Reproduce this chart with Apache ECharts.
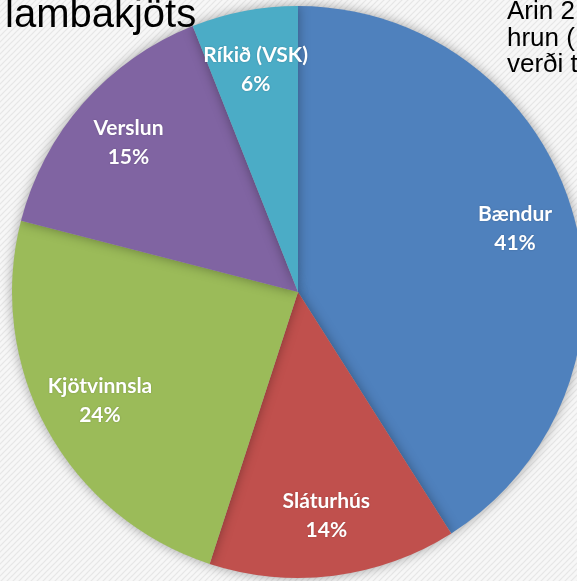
<!DOCTYPE html>
<html>
<head>
<meta charset="utf-8">
<script src="https://cdn.jsdelivr.net/npm/echarts@6/dist/echarts.min.js"></script>
<style>html,body{margin:0;padding:0;}#c{width:577px;height:581px;}</style>
</head>
<body>
<div id="c"></div>
<script>
const categories = ['Bændur', 'Sláturhús', 'Kjötvinnsla', 'Verslun', 'Ríkið (VSK)'];
const shares = [41, 14, 24, 15, 6];
const colors = ['#4F81BD', '#C0504D', '#9BBB59', '#8064A2', '#4BACC6'];
const titleText = 'lambakjöts';
const sideText = ['Árin 2', 'hrun (', 'verði t'];

const data = categories.map((n, i) => ({ name: n, value: shares[i], itemStyle: { color: colors[i] } }));

const pc = document.createElement('canvas');
pc.width = 6; pc.height = 6;
const g = pc.getContext('2d');
g.fillStyle = '#f7f7f7'; g.fillRect(0, 0, 6, 6);
g.strokeStyle = '#e6e6e6'; g.lineWidth = 1.2;
g.beginPath(); g.moveTo(-1, 7); g.lineTo(7, -1); g.stroke();
g.beginPath(); g.moveTo(-4, 4); g.lineTo(4, -4); g.stroke();
g.beginPath(); g.moveTo(2, 10); g.lineTo(10, 2); g.stroke();

const sideGraphics = sideText.map((t, i) => ({
  type: 'text', x: 507, y: 12 + i * 26.5, z: 100,
  style: { text: t, fontSize: 26, fontFamily: '"Liberation Sans", Arial, sans-serif', fill: '#000', verticalAlign: 'middle' }
}));

const chart = echarts.init(document.getElementById('c'));
chart.setOption({
  backgroundColor: { image: pc, repeat: 'repeat' },
  animation: false,
  graphic: [
    { type: 'text', x: 5, y: 16, z: 100,
      style: { text: titleText, fontSize: 40, fontFamily: '"Liberation Sans", Arial, sans-serif', fill: '#000', verticalAlign: 'middle' } }
  ].concat(sideGraphics),
  series: [
    {
      type: 'pie', center: [298, 292], radius: 286, startAngle: 90, clockwise: true,
      data: data, label: { show: false }, labelLine: { show: false }, silent: true,
      itemStyle: { shadowBlur: 12, shadowColor: 'rgba(0,0,0,0.35)' }
    },
    {
      type: 'pie', center: [298, 292], radius: [160, 286], startAngle: 90, clockwise: true,
      data: categories.map((n, i) => ({ name: n, value: shares[i] })), silent: true,
      itemStyle: { color: 'rgba(0,0,0,0)' },
      label: { show: true, position: 'inside', formatter: '{b}\n{c}%', color: '#fff', fontWeight: 'bold', fontSize: 21, lineHeight: 29, fontFamily: 'Lato, "Open Sans", sans-serif',
        textShadowColor: 'rgba(0,0,0,0.2)', textShadowBlur: 2 },
      labelLine: { show: false }
    }
  ]
});
</script>
</body>
</html>
